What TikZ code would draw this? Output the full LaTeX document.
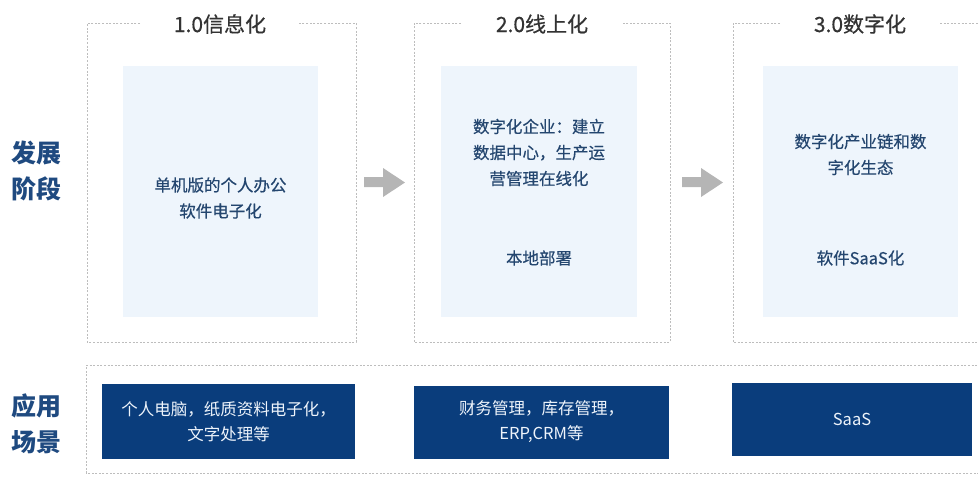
\documentclass[tikz,border=0pt]{standalone}
\usepackage{fontspec}
\setmainfont{Noto Sans CJK SC}
\newfontfamily\medfont[FakeBold=0.5]{Noto Sans CJK SC}
\definecolor{labelblue}{HTML}{1F4A80}
\definecolor{innertext}{HTML}{24466F}
\definecolor{titlegray}{HTML}{333333}
\definecolor{innerfill}{HTML}{EEF5FC}
\definecolor{navy}{HTML}{0A3D7C}
\definecolor{arrowgray}{HTML}{B5B5B5}
\definecolor{dashgray}{HTML}{BDBDBD}
\definecolor{boxtext}{HTML}{EEF4FB}
\tikzset{
  frameline/.style={draw=dashgray, line width=0.8pt, dash pattern=on 2pt off 1.6pt},
  stagetitle/.style={text=titlegray, font=\medfont\fontsize{21}{24}\selectfont, inner sep=0pt},
  innerbox/.style={fill=innerfill, draw=none},
  innertxt/.style={text=innertext, align=center, font=\medfont\fontsize{16.5}{26}\selectfont, inner sep=0pt},
  bluebox/.style={fill=navy, draw=none, text=boxtext, align=center, font=\fontsize{16.5}{25}\selectfont, inner sep=0pt},
  sidelabel/.style={text=labelblue, align=center, font=\fontsize{25}{36}\selectfont\bfseries, inner sep=0pt},
  blockarrow/.style={fill=arrowgray, draw=none}
}
\begin{document}
\begin{tikzpicture}[x=1pt,y=-1pt]
\useasboundingbox (0,0) rectangle (978,483);
\begin{scope}
\clip (0,0) rectangle (978,483);
% side labels
\node[sidelabel] (devlabel) at (37,170.5) {发展\\阶段};
\node[sidelabel] (applabel) at (37,423.5) {应用\\场景};

% stage frames (dashed, gap for title)
\draw[frameline] (140,23) -- (87,23) -- (87,342) -- (356,342) -- (356,23) -- (298,23);
\draw[frameline] (461,23) -- (414,23) -- (414,342) -- (670,342) -- (670,23) -- (623,23);
\draw[frameline] (780,23) -- (733,23) -- (733,342) -- (990,342);
\draw[frameline] (940,23) -- (990,23);

% titles
\node[stagetitle] (t1) at (220,24) {1.0信息化};
\node[stagetitle] (t2) at (542,24) {2.0线上化};
\node[stagetitle] (t3) at (860,24) {3.0数字化};

% inner boxes
\fill[innerbox] (123,66) rectangle (318,317);
\fill[innerbox] (441,66) rectangle (637,317);
\fill[innerbox] (763,66) rectangle (958,317);

\node[innertxt] (s1) at (220.5,198) {单机版的个人办公\\软件电子化};
\node[innertxt] (s2) at (539,152.5) {数字化企业：建立\\数据中心，生产运\\营管理在线化};
\node[innertxt] (s2b) at (539,258) {本地部署};
\node[innertxt] (s3) at (860.5,154.5) {数字化产业链和数\\字化生态};
\node[innertxt] (s3b) at (860.5,258) {软件SaaS化};

% block arrows
\fill[blockarrow] (364,177) -- (383,177) -- (383,168) -- (405,182.5) -- (383,197) -- (383,187) -- (364,187) -- cycle;
\fill[blockarrow] (682,177) -- (701,177) -- (701,168) -- (723,182.5) -- (701,197) -- (701,187) -- (682,187) -- cycle;

% application frame
\draw[frameline] (86,365) -- (990,365);
\draw[frameline] (990,473) -- (86,473) -- (86,365);

% application boxes
\node[bluebox, minimum width=253pt, minimum height=75pt] (a1) at (228.5,421.5) {个人电脑，纸质资料电子化，\\文字处理等};
\node[bluebox, minimum width=255pt, minimum height=73pt] (a2) at (541.5,422) {财务管理，库存管理，\\ERP,CRM等};
\node[bluebox, minimum width=240pt, minimum height=73pt] (a3) at (852,419.5) {SaaS};
\end{scope}
\end{tikzpicture}
\end{document}
